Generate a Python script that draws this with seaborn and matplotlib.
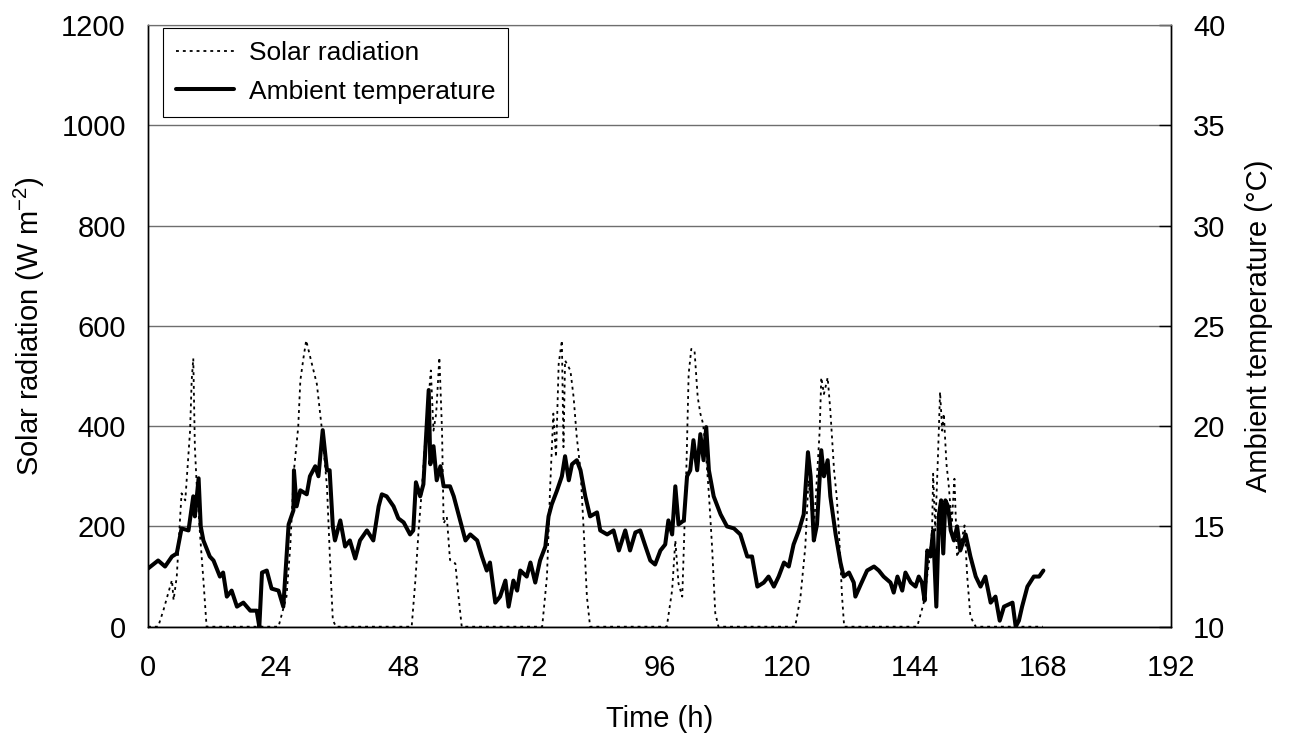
import matplotlib
matplotlib.use('Agg')
import matplotlib.pyplot as plt
import seaborn as sns
import pandas as pd

# Solar radiation (W m-2)
solar_hours = [0.0, 1.9, 2.9, 3.8, 4.5, 4.8, 5.4, 6.0, 6.3, 7.0, 7.9, 8.2, 8.5, 8.8, 9.1, 9.8, 10.4, 11.0,
               24.5, 26.0, 26.7, 27.4, 28.2, 28.6, 29.2, 29.7, 30.7, 31.7, 32.6, 33.6, 34.2, 34.7, 35.3,
               49.5, 50.2, 50.8, 51.4, 52.0, 52.7, 53.1, 53.6, 54.1, 54.7, 55.2, 55.5, 56.1, 56.7, 57.7, 58.3, 58.9,
               74.0, 74.9, 75.5, 76.1, 76.6, 77.1, 77.7, 78.0, 78.3, 79.3, 79.9, 80.5, 81.2, 81.8, 82.4, 83.0,
               97.4, 98.4, 99.0, 99.6, 100.3, 100.6, 101.1, 101.5, 102.0, 102.6, 103.2, 103.7, 104.2, 104.6,
               105.3, 105.9, 106.5, 107.1,
               121.5, 122.5, 123.4, 124.0, 125.0, 126.1, 126.4, 126.9, 127.6, 128.1, 128.8, 129.3, 129.7, 130.3, 130.7,
               144.4, 145.6, 146.6, 147.2, 147.4, 147.8, 148.3, 148.7, 149.1, 149.4, 149.9, 150.3, 150.9, 151.4,
               151.9, 152.5, 153.3, 153.8, 154.4, 155.4, 168.0]
solar_wm2 = [0, 0, 33, 67, 93, 53, 100, 212, 266, 252, 391, 491, 535, 358, 292, 179, 93, 0,
             0, 60, 159, 312, 398, 491, 537, 571, 527, 484, 398, 279, 126, 13, 0,
             0, 93, 192, 272, 365, 458, 511, 391, 425, 537, 391, 206, 219, 133, 126, 60, 0,
             0, 100, 279, 425, 338, 524, 571, 358, 531, 511, 458, 378, 312, 192, 60, 0,
             0, 73, 172, 86, 60, 159, 325, 504, 554, 551, 458, 425, 405, 365,
             265, 159, 27, 0,
             0, 60, 159, 292, 192, 391, 497, 464, 497, 431, 312, 259, 192, 60, 0,
             0, 46, 126, 192, 305, 192, 338, 468, 391, 425, 325, 285, 206, 295,
             139, 159, 202, 100, 20, 0, 0]

# Ambient temperature (deg C)
temp_hours = [0.0, 1.9, 3.2, 4.5, 5.4, 6.0, 6.3, 7.6, 8.5, 8.8, 9.5, 9.9, 10.4, 11.6, 12.3, 13.5, 14.1, 14.8,
              15.7, 16.7, 17.9, 19.2, 20.4, 20.9, 21.4, 22.3, 23.2, 24.5, 25.4, 26.4, 27.3, 27.4, 27.9, 28.6,
              29.8, 30.4, 31.4, 32.0, 32.8, 33.6, 34.1, 34.7, 35.1, 36.1, 37.0, 37.9, 38.9, 39.8, 41.1, 42.3,
              43.3, 43.9, 44.8, 46.1, 47.0, 48.0, 49.2, 49.8, 50.3, 51.1, 51.7, 52.7, 53.0, 53.6, 54.2, 54.9,
              55.5, 56.7, 57.4, 58.3, 59.6, 60.5, 61.8, 62.7, 63.6, 64.2, 65.2, 66.1, 67.1, 67.7, 68.6, 69.3,
              69.9, 71.1, 71.8, 72.7, 73.6, 74.6, 75.2, 75.8, 76.8, 77.7, 78.3, 79.0, 79.6, 80.5, 81.2, 82.1,
              83.0, 84.3, 84.9, 86.2, 87.4, 88.4, 89.6, 90.5, 91.5, 92.4, 93.4, 94.3, 95.2, 96.2, 97.1, 97.7,
              98.4, 99.0, 99.6, 100.6, 101.2, 101.8, 102.4, 103.1, 103.7, 104.3, 104.8, 105.3, 106.2, 107.5,
              108.7, 110.0, 111.2, 112.5, 113.4, 114.4, 115.6, 116.5, 117.5, 118.4, 119.4, 120.3, 121.2, 122.2,
              123.1, 123.9, 124.4, 125.0, 125.6, 126.4, 126.9, 127.6, 128.1, 129.1, 130.0, 130.6, 131.6, 132.5,
              132.8, 133.8, 135.0, 136.3, 137.2, 138.1, 139.4, 140.0, 140.7, 141.6, 142.2, 143.2, 144.1, 144.7,
              145.3, 145.8, 146.3, 146.9, 147.4, 148.0, 148.5, 148.9, 149.3, 149.7, 150.2, 150.7, 151.3, 151.9,
              152.5, 153.5, 154.4, 155.4, 156.3, 157.2, 158.2, 159.1, 159.9, 160.7, 162.3, 162.9, 163.5, 164.1,
              165.1, 166.3, 167.3, 168.1]
temp_c = [12.9, 13.3, 13.0, 13.5, 13.65, 14.5, 14.9, 14.8, 16.5, 15.5, 17.4, 15.0, 14.3, 13.5, 13.3, 12.5, 12.7, 11.5,
          11.8, 11.0, 11.2, 10.8, 10.8, 10.0, 12.7, 12.8, 11.9, 11.8, 11.0, 15.1, 15.8, 17.8, 16.0, 16.8,
          16.6, 17.5, 18.0, 17.5, 19.8, 17.8, 17.8, 15.0, 14.3, 15.3, 14.0, 14.3, 13.4, 14.3, 14.8, 14.3,
          16.0, 16.6, 16.5, 16.0, 15.4, 15.2, 14.6, 14.8, 17.2, 16.5, 17.1, 21.8, 18.1, 19.0, 17.3, 18.0,
          17.0, 17.0, 16.5, 15.6, 14.3, 14.6, 14.3, 13.5, 12.8, 13.2, 11.2, 11.5, 12.3, 11.0, 12.3, 11.8,
          12.8, 12.5, 13.2, 12.2, 13.3, 14.0, 15.5, 16.1, 16.8, 17.5, 18.5, 17.3, 18.1, 18.3, 17.8, 16.5,
          15.5, 15.7, 14.8, 14.6, 14.8, 13.8, 14.8, 13.8, 14.7, 14.8, 14.0, 13.3, 13.1, 13.8, 14.1, 15.3,
          14.6, 17.0, 15.1, 15.3, 17.5, 17.8, 19.3, 17.8, 19.6, 18.3, 19.95, 17.8, 16.5, 15.6,
          15.0, 14.9, 14.6, 13.5, 13.5, 12.0, 12.2, 12.5, 12.0, 12.5, 13.2, 13.0, 14.1, 14.8,
          15.6, 18.7, 17.5, 14.3, 15.1, 18.8, 17.5, 18.3, 16.5, 14.6, 13.2, 12.5, 12.7, 12.2,
          11.5, 12.1, 12.8, 13.0, 12.8, 12.5, 12.2, 11.7, 12.5, 11.8, 12.7, 12.2, 12.0, 12.5,
          12.2, 11.3, 13.8, 13.5, 14.8, 11.0, 15.6, 16.3, 13.65, 16.3, 16.0, 14.8, 14.3, 15.0,
          13.8, 14.6, 13.5, 12.5, 12.0, 12.5, 11.2, 11.5, 10.3, 11.0, 11.2, 10.0, 10.3, 11.0,
          12.0, 12.5, 12.5, 12.8]

x_ticks = list(range(0, 193, 24))
solar_ticks = list(range(0, 1201, 200))
temp_ticks = list(range(10, 41, 5))

solar = pd.DataFrame({"Time": solar_hours, "Solar": solar_wm2})
temp = pd.DataFrame({"Time": temp_hours, "Temp": temp_c})

sns.set_style("white")
plt.rcParams['font.family'] = ['Liberation Sans', 'DejaVu Sans']
plt.rcParams['mathtext.default'] = 'regular'
for key in ('text.color', 'axes.labelcolor', 'xtick.color', 'ytick.color'):
    plt.rcParams[key] = 'black'
fs = 21

fig = plt.figure(figsize=(12.91, 7.40), dpi=100)
ax = fig.add_axes([148 / 1291, 1 - 626.7 / 740, (1170.7 - 148) / 1291, (626.7 - 25) / 740])
ax2 = ax.twinx()

# dotted solar curve on the left axis, thick temperature curve on the right axis
sns.lineplot(data=solar, x="Time", y="Solar", ax=ax, color='black', linewidth=1.3,
             estimator=None, label="Solar radiation", legend=False)
ax.lines[0].set_dashes([1.6, 2.2])
sns.lineplot(data=temp, x="Time", y="Temp", ax=ax2, color='black', linewidth=2.9,
             estimator=None, label="Ambient temperature", legend=False)

ax.set_xlim(0, 192)
ax.set_ylim(0, 1200)
ax2.set_ylim(10, 40)
ax.set_xticks(x_ticks)
ax.set_yticks(solar_ticks)
ax2.set_yticks(temp_ticks)

ax.yaxis.grid(True, color='#6e6e6e', linewidth=1.0)
ax.set_axisbelow(True)
for a in (ax, ax2):
    for side in ('left', 'right', 'bottom'):
        a.spines[side].set_color('black')
        a.spines[side].set_linewidth(1.0)
    a.spines['top'].set_color('#6e6e6e')

ax.tick_params(axis='x', direction='inout', length=12, width=1, labelsize=fs, pad=14)
ax.tick_params(axis='y', left=False, length=0, labelsize=fs, pad=16)
ax2.tick_params(axis='y', right=True, direction='in', length=9, width=1, labelsize=fs, pad=16)

ax.set_xlabel("Time (h)", fontsize=fs, labelpad=16)
ax.set_ylabel("Solar radiation (W m$^{-2}$)", fontsize=fs, labelpad=10)
ax2.set_ylabel("Ambient temperature (°C)", fontsize=fs, labelpad=14)

handles = ax.get_lines()[:1] + ax2.get_lines()[:1]
leg = ax2.legend(handles, ["Solar radiation", "Ambient temperature"], loc='upper left',
                 bbox_to_anchor=(163 / 1291, 1 - 28 / 740), bbox_transform=fig.transFigure,
                 borderaxespad=0, fontsize=19, frameon=True, fancybox=False, framealpha=1,
                 edgecolor='black', handlelength=2.2, handletextpad=0.55, labelspacing=0.55,
                 borderpad=0.5)
leg.get_frame().set_linewidth(0.8)

fig.savefig("out.png", dpi=100)
